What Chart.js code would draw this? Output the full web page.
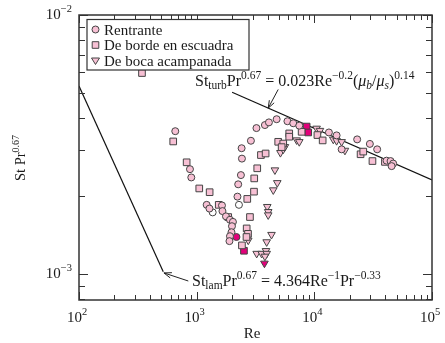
<!DOCTYPE html>
<html lang="es">
<head>
<meta charset="UTF-8">
<title>St Pr^0.67 frente a Re</title>
<script src="https://cdn.jsdelivr.net/npm/chart.js"></script>
<style>
  html, body { margin: 0; padding: 0; background: #fff; }
</style>
</head>
<body>
<canvas id="chart" width="445" height="343"></canvas>
<script>
  // datos
  const rentranteRe = [658, 877, 900, 1216, 1285, 1641, 1656, 1774, 1919, 2033, 1995, 1977, 1919, 1900,
    2222, 2254, 2377, 2425, 2410, 2891, 3221, 3802, 4111, 4783, 5906, 6617, 7447,
    13300, 15460, 17060, 23120, 29650, 34200, 41100, 44450, 46780, 45370];
  const rentranteSt = [3.56e-3, 2.54e-3, 2.36e-3, 1.85e-3, 1.79e-3, 1.84e-3, 1.75e-3, 1.67e-3, 1.62e-3, 1.59e-3, 1.53e-3, 1.45e-3, 1.40e-3, 1.34e-3,
    1.99e-3, 2.22e-3, 2.41e-3, 2.79e-3, 3.06e-3, 3.27e-3, 3.66e-3, 3.76e-3, 3.85e-3, 3.96e-3, 3.89e-3, 3.82e-3, 3.74e-3,
    3.52e-3, 3.43e-3, 3.03e-3, 3.31e-3, 3.18e-3, 3.03e-3, 2.74e-3, 2.73e-3, 2.67e-3, 2.61e-3];
  const rentranteAbiertoRe = [1368, 2287];
  const rentranteAbiertoSt = [1.73e-3, 1.85e-3];
  const rentranteMarcaRe = [2178];
  const rentranteMarcaSt = [1.39e-3];

  const escuadraRe = [343, 632, 822, 1052, 1289, 1540, 1854, 2692, 2838, 2661, 2731, 2651, 2425,
    3070, 3085, 3272, 3518, 3855, 4931, 5441, 5275, 6118, 6118, 7798, 10620, 11770, 24720, 26050, 31190, 39810];
  const escuadraSt = [5.97e-3, 3.25e-3, 2.70e-3, 2.14e-3, 2.07e-3, 1.85e-3, 1.66e-3, 1.95e-3, 1.66e-3, 1.50e-3, 1.43e-3, 1.39e-3, 1.29e-3,
    2.08e-3, 2.34e-3, 2.56e-3, 2.88e-3, 2.92e-3, 3.24e-3, 3.19e-3, 3.09e-3, 3.49e-3, 3.39e-3, 3.54e-3, 3.44e-3, 3.28e-3, 2.90e-3, 2.97e-3, 2.73e-3, 2.71e-3];
  const escuadraMarcaRe = [2523, 8605, 8873];
  const escuadraMarcaSt = [1.23e-3, 3.71e-3, 3.52e-3];

  const acampanadaRe = [3981, 4055, 4055, 4325, 3936, 3236, 3565, 3882, 3936, 3802, 2744,
    4477, 4842, 4624, 5152, 5441, 5623, 7079, 7447, 10450, 11160, 14490, 15460, 17060, 18200];
  const acampanadaSt = [1.82e-3, 1.74e-3, 1.69e-3, 1.42e-3, 1.33e-3, 1.20e-3, 1.20e-3, 1.23e-3, 1.20e-3, 1.17e-3, 1.35e-3,
    2.11e-3, 2.25e-3, 2.52e-3, 2.94e-3, 3.03e-3, 3.10e-3, 3.29e-3, 3.24e-3, 3.65e-3, 3.58e-3, 3.31e-3, 3.27e-3, 3.24e-3, 3.00e-3];
  const acampanadaMarcaRe = [3767];
  const acampanadaMarcaSt = [1.10e-3];

  // correlaciones (extremos de las rectas)
  const turbRe = [2000, 100000];
  const turbSt = [5.03e-3, 2.31e-3];
  const lamRe = [100, 520];
  const lamSt = [5.32e-3, 1.02e-3];

  const decadasRe = [100, 1000, 10000, 100000];
  const etiquetasRe = ['2', '3', '4', '5'];
  const decadasSt = [0.001, 0.01];
  const etiquetasSt = ['\u22123', '\u22122'];

  const ROSA = '#f7c0d4';
  const MAGENTA = '#e2007a';
  const BORDE = '#444';
  const SERIF = '"Liberation Serif", "DejaVu Serif", serif';

  const pts = (xs, ys) => xs.map((x, i) => ({ x: x, y: ys[i] }));

  function richText(ctx, x, y, parts) {
    let cx = x;
    for (const p of parts) {
      ctx.font = (p[3] ? 'italic ' : '') + p[1] + 'px ' + SERIF;
      ctx.fillText(p[0], cx, y + p[2]);
      cx += ctx.measureText(p[0]).width;
    }
    return cx;
  }

  function richWidth(ctx, parts) {
    let w = 0;
    for (const p of parts) {
      ctx.font = (p[3] ? 'italic ' : '') + p[1] + 'px ' + SERIF;
      w += ctx.measureText(p[0]).width;
    }
    return w;
  }

  function flecha(ctx, x0, y0, x1, y1) {
    const a = Math.atan2(y1 - y0, x1 - x0);
    ctx.beginPath();
    ctx.moveTo(x0, y0);
    ctx.lineTo(x1, y1);
    ctx.moveTo(x1 - 8 * Math.cos(a - 0.35), y1 - 8 * Math.sin(a - 0.35));
    ctx.lineTo(x1, y1);
    ctx.lineTo(x1 - 8 * Math.cos(a + 0.35), y1 - 8 * Math.sin(a + 0.35));
    ctx.stroke();
  }

  function marcador(ctx, tipo, x, y) {
    ctx.fillStyle = ROSA;
    ctx.strokeStyle = BORDE;
    ctx.lineWidth = 1;
    ctx.beginPath();
    if (tipo === 'circle') ctx.arc(x, y, 3.5, 0, Math.PI * 2);
    else if (tipo === 'rect') ctx.rect(x - 3.3, y - 3.3, 6.6, 6.6);
    else { ctx.moveTo(x - 4, y - 2.5); ctx.lineTo(x + 4, y - 2.5); ctx.lineTo(x, y + 4); ctx.closePath(); }
    ctx.fill();
    ctx.stroke();
  }

  const decoracion = {
    id: 'decoracion',
    afterDraw(chart) {
      const ctx = chart.ctx;
      const a = chart.chartArea;
      const sx = chart.scales.x, sy = chart.scales.y;
      ctx.save();

      // marcas interiores en los cuatro lados
      ctx.strokeStyle = '#333';
      ctx.lineWidth = 1;
      ctx.beginPath();
      for (let d = 100; d <= 100000; d *= 10) {
        for (let k = 1; k <= 9; k++) {
          const v = d * k;
          if (v > 100000) break;
          const px = Math.round(sx.getPixelForValue(v)) + 0.5;
          const len = k === 1 ? 8 : 5;
          ctx.moveTo(px, a.bottom); ctx.lineTo(px, a.bottom - len);
          ctx.moveTo(px, a.top); ctx.lineTo(px, a.top + len);
        }
      }
      for (let d = 0.0001; d <= 0.01; d *= 10) {
        for (let k = 1; k <= 9; k++) {
          const v = d * k;
          if (v < sy.min * 0.999 || v > 0.0101) continue;
          const py = Math.round(sy.getPixelForValue(v)) + 0.5;
          const len = k === 1 ? 9 : 6;
          ctx.moveTo(a.left, py); ctx.lineTo(a.left + len, py);
          ctx.moveTo(a.right, py); ctx.lineTo(a.right - len, py);
        }
      }
      ctx.stroke();

      // marco
      ctx.lineWidth = 1.5;
      ctx.strokeRect(a.left, a.top, a.right - a.left, a.bottom - a.top);

      ctx.fillStyle = '#1a1a1a';
      ctx.textBaseline = 'alphabetic';

      // etiquetas eje x
      decadasRe.forEach((v, i) => {
        const parts = [['10', 15, 0], [etiquetasRe[i], 10.5, -7]];
        const w = richWidth(ctx, parts);
        richText(ctx, sx.getPixelForValue(v) - w / 2 - 2, a.bottom + 22, parts);
      });
      // etiquetas eje y
      decadasSt.forEach((v, i) => {
        const parts = [['10', 15, 0], [etiquetasSt[i], 10.5, -7]];
        const w = richWidth(ctx, parts);
        richText(ctx, a.left - 7 - w, sy.getPixelForValue(v) + 4, parts);
      });

      // titulos
      ctx.font = '15px ' + SERIF;
      ctx.textAlign = 'center';
      ctx.fillText('Re', 252, 338);
      ctx.textAlign = 'left';
      ctx.save();
      ctx.translate(25, 158);
      ctx.rotate(-Math.PI / 2);
      const tpar = [['St Pr', 14.5, 0], ['0.67', 10, -6]];
      richText(ctx, -richWidth(ctx, tpar) / 2, 0, tpar);
      ctx.restore();

      // correlacion turbulenta
      richText(ctx, 195, 86, [
        ['St', 16, 0], ['turb', 11.5, 3], ['Pr', 16, 0], ['0.67', 11.5, -7], [' = ', 16, 0],
        ['0.023Re', 16, 0], ['\u22120.2', 11.5, -7], ['(', 16, 0], ['\u03bc', 16, 0, true], ['b', 11.5, 3, true],
        ['/', 16, 0], ['\u03bc', 16, 0, true], ['s', 11.5, 3, true], [')', 16, 0], ['0.14', 11.5, -7]
      ]);
      // correlacion laminar
      richText(ctx, 192, 286, [
        ['St', 16, 0], ['lam', 11.5, 3], ['Pr', 16, 0], ['0.67', 11.5, -7], [' = ', 16, 0], ['4.364Re', 16, 0],
        ['\u22121', 11.5, -7], ['Pr', 16, 0], ['\u22120.33', 11.5, -7]
      ]);

      ctx.strokeStyle = '#222';
      ctx.lineWidth = 1;
      flecha(ctx, sx.getPixelForValue(4932), sy.getPixelForValue(5.16e-3), sx.getPixelForValue(4055), sy.getPixelForValue(4.37e-3));
      flecha(ctx, sx.getPixelForValue(849), sy.getPixelForValue(9.4e-4), sx.getPixelForValue(527), sy.getPixelForValue(1.01e-3));

      // leyenda
      ctx.fillStyle = '#fff';
      ctx.fillRect(87, 19.5, 162, 50.5);
      ctx.strokeStyle = '#333';
      ctx.lineWidth = 1.2;
      ctx.strokeRect(87, 19.5, 162, 50.5);
      const entradas = chart.data.datasets.slice(0, 3);
      entradas.forEach((ds, i) => {
        const y = 29.5 + i * 15.5;
        marcador(ctx, ds.pointStyle, 95.5, y);
        ctx.fillStyle = '#1a1a1a';
        ctx.font = '15px ' + SERIF;
        ctx.fillText(ds.label, 104, y + 5);
      });
      ctx.restore();
    }
  };

  const punto = (etiqueta, datos, estilo, relleno, radio, giro) => ({
    label: etiqueta,
    data: datos,
    pointStyle: estilo,
    pointRotation: giro || 0,
    pointRadius: radio,
    pointHoverRadius: radio,
    pointBackgroundColor: relleno,
    pointBorderColor: BORDE,
    pointBorderWidth: 1,
    showLine: false
  });

  const recta = (datos) => ({
    label: '',
    data: datos,
    showLine: true,
    borderColor: '#111',
    borderWidth: 1.2,
    pointRadius: 0,
    fill: false,
    order: 5
  });

  new Chart(document.getElementById('chart'), {
    type: 'scatter',
    data: {
      datasets: [
        punto('Rentrante', pts(rentranteRe, rentranteSt), 'circle', ROSA, 3.5),
        punto('De borde en escuadra', pts(escuadraRe, escuadraSt), 'rect', ROSA, 4.7),
        punto('De boca acampanada', pts(acampanadaRe, acampanadaSt), 'triangle', ROSA, 4.4, 180),
        punto('', pts(rentranteAbiertoRe, rentranteAbiertoSt), 'circle', '#fff', 3.5),
        punto('', pts(rentranteMarcaRe, rentranteMarcaSt), 'circle', MAGENTA, 3.5),
        punto('', pts(escuadraMarcaRe, escuadraMarcaSt), 'rect', MAGENTA, 4.7),
        punto('', pts(acampanadaMarcaRe, acampanadaMarcaSt), 'triangle', MAGENTA, 4.4, 180),
        recta(pts(turbRe, turbSt)),
        recta(pts(lamRe, lamSt))
      ]
    },
    options: {
      responsive: false,
      animation: false,
      layout: { padding: { left: 79, right: 13, top: 15, bottom: 43 } },
      plugins: { legend: { display: false }, tooltip: { enabled: false } },
      scales: {
        x: { type: 'logarithmic', min: 100, max: 100000, display: false },
        y: { type: 'logarithmic', min: 0.000794, max: 0.01, display: false }
      }
    },
    plugins: [decoracion]
  });
</script>
</body>
</html>
